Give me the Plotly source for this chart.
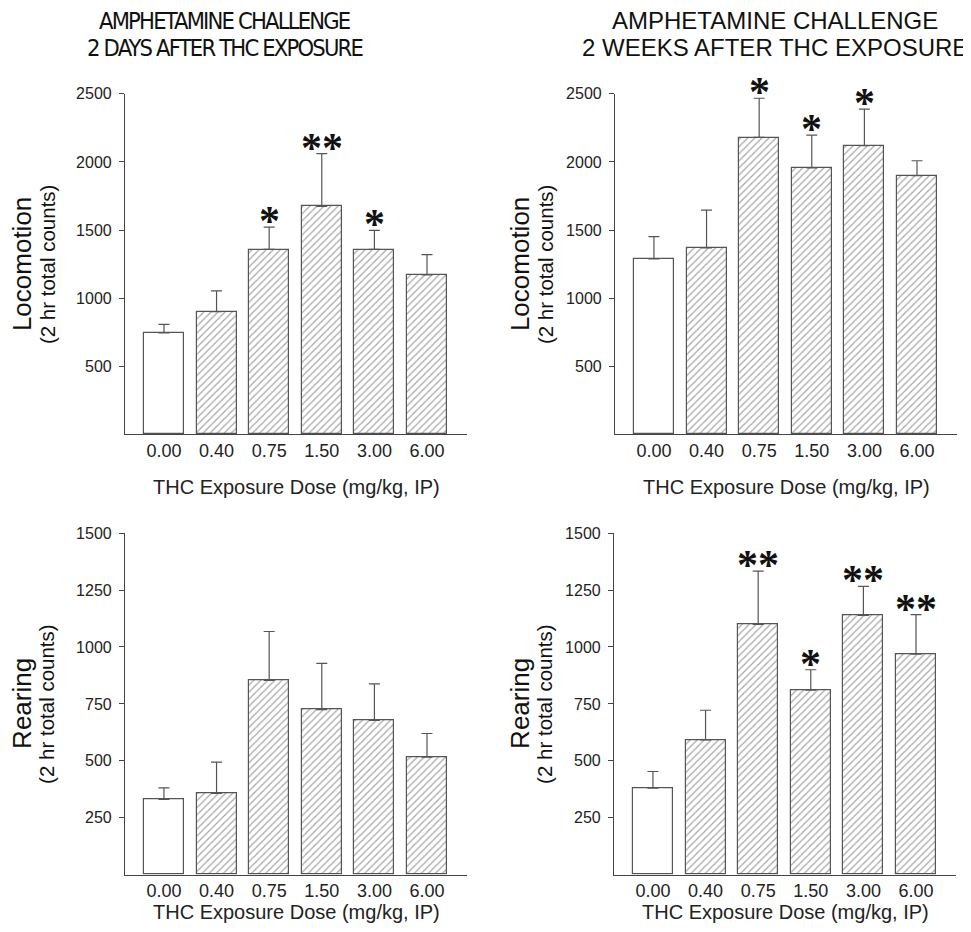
import plotly.graph_objects as go

# ---------------- data ----------------
doses = ["0.00", "0.40", "0.75", "1.50", "3.00", "6.00"]

loco_2d_mean = [745, 901, 1358, 1674, 1358, 1171]
loco_2d_sem = [63, 152, 164, 388, 140, 149]
loco_2d_sig = ["", "", "*", "**", "*", ""]

loco_2w_mean = [1288, 1369, 2180, 1957, 2119, 1899]
loco_2w_sem = [164, 278, 288, 240, 269, 110]
loco_2w_sig = ["", "", "*", "*", "*", ""]

rear_2d_mean = [330, 357, 853, 725, 678, 516]
rear_2d_sem = [51, 137, 215, 203, 160, 104]
rear_2d_sig = ["", "", "", "", "", ""]

rear_2w_mean = [380, 592, 1099, 810, 1139, 969]
rear_2w_sem = [73, 130, 234, 90, 127, 173]
rear_2w_sig = ["", "", "**", "*", "**", "**"]

loco_ticks = [500, 1000, 1500, 2000, 2500]
rear_ticks = [250, 500, 750, 1000, 1250, 1500]

title_line1 = "AMPHETAMINE CHALLENGE"
title_line2 = ["2 DAYS AFTER THC EXPOSURE", "2 WEEKS AFTER THC EXPOSURE"]
xlabel = "THC Exposure Dose (mg/kg, IP)"
ylabels = ["Locomotion", "Rearing"]
ysub = "(2 hr total counts)"

# ---------------- layout helpers ----------------
W, H = 971, 932
OX, OY, SY = 8, 15, 0.993   # page offset compensation (measured)


def px(x):
    return (x - OX) / W


def py(y):
    return 1 - ((y - OY) / SY) / H


SANS = "Liberation Sans, Arial, sans-serif"
COND = "DejaVu Sans Condensed, DejaVu Sans, sans-serif"
AX = "#444444"
BAR = "#555555"

panels = [
    # (x0, x1, ytop, ybottom, ymax, ticks, mean, sem, sig, ylabel, ytitle_x, xtitle_y)
    (125, 467, 93, 434, 2500, loco_ticks, loco_2d_mean, loco_2d_sem, loco_2d_sig, ylabels[0], 22, 487),
    (615, 957, 93, 434, 2500, loco_ticks, loco_2w_mean, loco_2w_sem, loco_2w_sig, ylabels[0], 520, 487),
    (125, 467, 533, 875, 1500, rear_ticks, rear_2d_mean, rear_2d_sem, rear_2d_sig, ylabels[1], 22, 912),
    (614, 956, 533, 875, 1500, rear_ticks, rear_2w_mean, rear_2w_sem, rear_2w_sig, ylabels[1], 520, 912),
]

fig = go.Figure()
annotations = []
xs = list(range(len(doses)))

for i, (x0, x1, yt, yb, ymax, ticks, mean, sem, sig, ylab, ytx, xty) in enumerate(panels):
    n = "" if i == 0 else str(i + 1)
    xa = "x" + n
    ya = "y" + n
    shapes_pat = ["" if k == 0 else "/" for k in range(len(doses))]
    fig.add_trace(go.Bar(
        x=xs, y=mean, xaxis=xa, yaxis=ya, width=0.76,
        marker=dict(color="white",
                    line=dict(color=BAR, width=1.2),
                    pattern=dict(shape=shapes_pat, fgcolor="#505050", bgcolor="white",
                                 size=5, solidity=0.25, fillmode="overlay")),
        error_y=dict(type="data", array=sem, arrayminus=[0] * len(sem), symmetric=False,
                     color=BAR, thickness=1.2, width=5.5),
        showlegend=False, hoverinfo="skip",
    ))
    fig.layout["xaxis" + n] = dict(
        domain=[px(x0), px(x1)], anchor=ya, range=[-0.74, 5.76],
        tickvals=xs, ticktext=doses, showline=True, linecolor=AX, linewidth=1.2,
        ticks="", showgrid=False, zeroline=False, fixedrange=True,
        tickfont=dict(family=SANS, size=18, color="#222222"),
    )
    fig.layout["yaxis" + n] = dict(
        domain=[py(yb), py(yt)], anchor=xa, range=[0, ymax],
        tickvals=ticks, showline=True, linecolor=AX, linewidth=1.2,
        ticks="outside", ticklen=5, tickcolor=AX, tickwidth=1.2,
        ticklabelstandoff=4,
        showgrid=False, zeroline=False, fixedrange=True,
        tickfont=dict(family=SANS, size=16, color="#222222"),
    )
    # significance stars
    for k in range(len(doses)):
        if sig[k]:
            annotations.append(dict(
                x=xs[k], y=mean[k] + sem[k], xref=xa, yref=ya,
                text=sig[k], showarrow=False, yanchor="bottom", yshift=-19,
                font=dict(family="Liberation Serif, Times New Roman, serif", size=42,
                          color="#111111", weight="bold"),
            ))
    # x axis title
    annotations.append(dict(
        x=px((x0 + x1) / 2), y=py(xty), xref="paper", yref="paper",
        text=xlabel, showarrow=False, xanchor="center", yanchor="middle",
        font=dict(family=SANS, size=20, color="#222222"),
    ))
    # y axis titles
    annotations.append(dict(
        x=px(ytx), y=py((yt + yb) / 2), xref="paper", yref="paper",
        text=ylab, showarrow=False, textangle=-90, xanchor="center", yanchor="middle",
        font=dict(family=SANS, size=26, color="#111111"),
    ))
    annotations.append(dict(
        x=px(ytx + 25), y=py((yt + yb) / 2), xref="paper", yref="paper",
        text=ysub, showarrow=False, textangle=-90, xanchor="center", yanchor="middle",
        font=dict(family=SANS, size=20.5, color="#111111"),
    ))

# column titles (left one is set in a condensed face, as in the original)
title_specs = [
    (225, "<span style='letter-spacing:-1.8px'>%s</span>", dict(family=COND, size=23.5, color="#111111")),
    (775, "%s", dict(family=SANS, size=24, color="#111111")),
]
for (cx, wrap, f), l2 in zip(title_specs, title_line2):
    annotations.append(dict(
        x=px(cx), y=py(20), xref="paper", yref="paper", text=wrap % title_line1, showarrow=False,
        xanchor="center", yanchor="middle", font=f,
    ))
    annotations.append(dict(
        x=px(cx), y=py(47), xref="paper", yref="paper", text=wrap % l2, showarrow=False,
        xanchor="center", yanchor="middle", font=f,
    ))

fig.update_layout(
    width=W, height=H, autosize=False,
    margin=dict(l=0, r=0, t=0, b=0),
    paper_bgcolor="white", plot_bgcolor="white",
    annotations=annotations, bargap=0,
)

fig.write_html("out.html")
